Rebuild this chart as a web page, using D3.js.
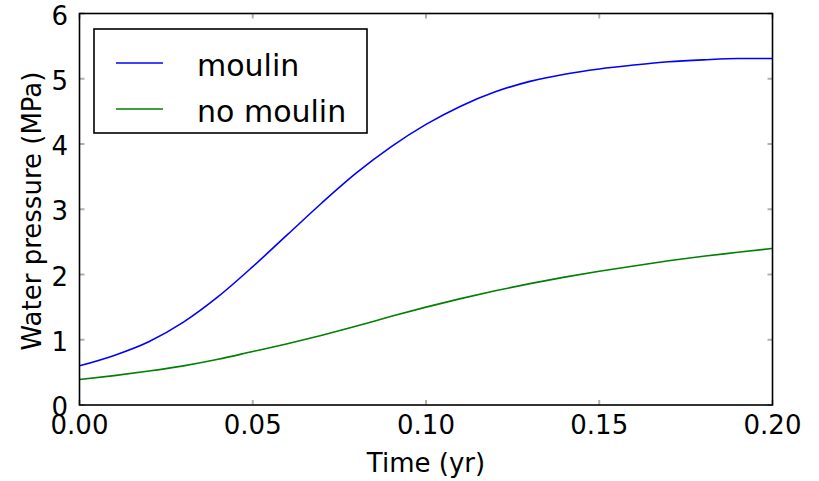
<!DOCTYPE html>
<html>
<head>
<meta charset="utf-8">
<script src="https://cdn.jsdelivr.net/npm/d3@7"></script>
<style>
  html, body { margin: 0; padding: 0; background: #fff; }
  svg { display: block; font-family: "DejaVu Sans", Verdana, sans-serif; }
</style>
</head>
<body>
<svg id="chart" width="819" height="481"></svg>
<script>
const time = [0.00,0.01,0.02,0.03,0.04,0.05,0.06,0.07,0.08,0.09,0.10,0.11,0.12,0.13,0.14,0.15,0.16,0.17,0.18,0.19,0.20];
const moulin = [0.60,0.76,0.97,1.27,1.66,2.12,2.61,3.10,3.56,3.96,4.30,4.58,4.80,4.96,5.07,5.15,5.21,5.26,5.29,5.31,5.31];
const noMoulin = [0.39,0.45,0.52,0.60,0.70,0.82,0.94,1.07,1.21,1.36,1.50,1.63,1.75,1.86,1.96,2.05,2.13,2.21,2.28,2.34,2.40];
const xTicks = [0.00,0.05,0.10,0.15,0.20];
const yTicks = [0,1,2,3,4,5,6];
const seriesNames = ["moulin","no moulin"];
const seriesColors = ["#0000ff","#008000"];
const xLabel = "Time (yr)";
const yLabel = "Water pressure (MPa)";

const L = 79.5, R = 772.5, T = 13.5, B = 405;
const svg = d3.select("#chart");
const x = d3.scaleLinear().domain([0, 0.2]).range([L, R]);
const y = d3.scaleLinear().domain([0, 6]).range([B, T]);

// inner ticks (gray) on all sides
const tickColor = "#b0b0b0", tl = 5;
const g = svg.append("g");
xTicks.forEach(t => {
  g.append("line").attr("x1", x(t)).attr("x2", x(t)).attr("y1", B).attr("y2", B - tl)
    .attr("stroke", tickColor).attr("stroke-width", 2);
  g.append("line").attr("x1", x(t)).attr("x2", x(t)).attr("y1", T).attr("y2", T + tl)
    .attr("stroke", tickColor).attr("stroke-width", 2);
});
yTicks.forEach(t => {
  g.append("line").attr("x1", L).attr("x2", L + tl).attr("y1", y(t)).attr("y2", y(t))
    .attr("stroke", tickColor).attr("stroke-width", 2);
  g.append("line").attr("x1", R).attr("x2", R - tl).attr("y1", y(t)).attr("y2", y(t))
    .attr("stroke", tickColor).attr("stroke-width", 2);
});

// lines
const line = d3.line().curve(d3.curveMonotoneX);
[moulin, noMoulin].forEach((vals, i) => {
  svg.append("path")
    .attr("d", line(time.map((t, j) => [x(t), y(vals[j])])))
    .attr("fill", "none").attr("stroke", seriesColors[i]).attr("stroke-width", 1.6);
});

// frame
svg.append("rect").attr("x", L).attr("y", T).attr("width", R - L).attr("height", B - T)
  .attr("fill", "none").attr("stroke", "#000").attr("stroke-width", 1.6);

// tick labels
const fmt = d3.format(".2f");
xTicks.forEach(t => {
  svg.append("text").attr("x", x(t)).attr("y", 434).attr("text-anchor", "middle")
    .attr("font-size", 26).attr("fill", "#000").text(fmt(t));
});
yTicks.forEach(t => {
  svg.append("text").attr("x", 68).attr("y", y(t) + 11).attr("text-anchor", "end")
    .attr("font-size", 26).attr("fill", "#000").text(t);
});

// axis labels
svg.append("text").attr("x", x(0.1)).attr("y", 472).attr("text-anchor", "middle")
  .attr("font-size", 26).attr("fill", "#000").text(xLabel);
svg.append("text").attr("transform", "translate(41,211) rotate(-90)").attr("text-anchor", "middle")
  .attr("font-size", 26).attr("fill", "#000").text(yLabel);

// legend
svg.append("rect").attr("x", 94).attr("y", 29).attr("width", 273).attr("height", 104)
  .attr("fill", "#fff").attr("stroke", "#000").attr("stroke-width", 1.6);
const legY = [63, 109];
seriesNames.forEach((n, i) => {
  svg.append("line").attr("x1", 116).attr("x2", 163).attr("y1", legY[i]).attr("y2", legY[i])
    .attr("stroke", seriesColors[i]).attr("stroke-width", 1.6);
  svg.append("text").attr("x", 197).attr("y", legY[i] + 13).attr("font-size", 30)
    .attr("fill", "#000").text(n);
});
</script>
</body>
</html>
